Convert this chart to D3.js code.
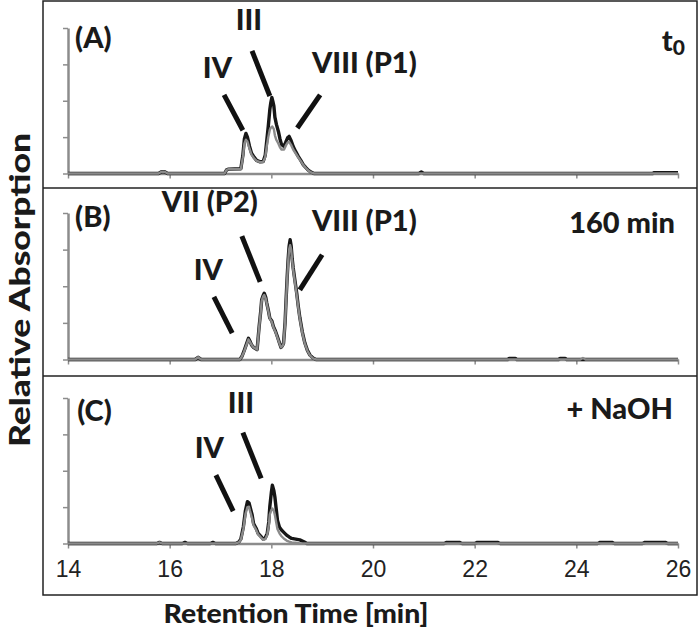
<!DOCTYPE html>
<html>
<head>
<meta charset="utf-8">
<script src="https://cdn.jsdelivr.net/npm/d3@7"></script>
<style>
  body { margin: 0; background: #fff; }
  .lbl { font-family: Lato, "Open Sans", sans-serif; font-weight: 900; fill: #1a1a1a; }
  .tick text { font-family: "Liberation Sans", Arial, sans-serif; font-size: 23px; fill: #222; }
</style>
</head>
<body>
<div id="chart"></div>
<script>
// x ticks (retention time, min)
var xTicks = [14, 16, 18, 20, 22, 24, 26]
var yTicks = [0, 1, 2, 3, 4]

// panel texts
var panelNames = ["(A)", "(B)", "(C)"]
var conditions = ["t", "160 min", "+ NaOH"]
var peakNamesA = ["IV", "III", "VIII (P1)"]
var peakNamesB = ["IV", "VII (P2)", "VIII (P1)"]
var peakNamesC = ["IV", "III"]

// traces: [time, relative absorption]
var blackA = [[14,0],[15.78,0],[15.84,0.05],[15.90,0.05],[15.96,0],[17.08,0],[17.12,0.1],[17.16,0.12],[17.40,0.13],[17.44,0.5],[17.47,0.95],[17.50,1.10],[17.53,1.0],[17.57,0.75],[17.61,0.56],[17.66,0.45],[17.71,0.36],[17.78,0.32],[17.84,0.33],[17.88,0.5],[17.91,0.9],[17.94,1.3],[17.97,1.75],[17.99,1.95],[18.01,2.09],[18.03,1.98],[18.05,1.85],[18.07,1.55],[18.10,1.35],[18.14,1.15],[18.17,0.95],[18.20,0.80],[18.25,0.74],[18.29,0.88],[18.32,0.98],[18.35,1.02],[18.39,0.90],[18.43,0.74],[18.48,0.60],[18.53,0.47],[18.58,0.36],[18.63,0.24],[18.68,0.16],[18.72,0.10],[18.78,0.04],[18.84,0],[20.90,0],[20.95,0.04],[21.00,0],[25.50,0],[25.52,0.02],[26,0.02]]
var grayA = [[14,0],[15.78,0],[15.84,0.05],[15.90,0.05],[15.96,0],[17.08,0],[17.12,0.1],[17.16,0.12],[17.40,0.12],[17.44,0.45],[17.47,0.82],[17.50,0.93],[17.53,0.88],[17.57,0.68],[17.61,0.52],[17.66,0.42],[17.71,0.35],[17.78,0.31],[17.84,0.32],[17.88,0.45],[17.91,0.75],[17.94,1.0],[17.97,1.2],[17.99,1.26],[18.02,1.29],[18.05,1.22],[18.07,1.05],[18.10,0.92],[18.14,0.82],[18.17,0.72],[18.20,0.66],[18.25,0.66],[18.29,0.78],[18.32,0.85],[18.35,0.87],[18.39,0.78],[18.43,0.66],[18.48,0.55],[18.53,0.44],[18.58,0.34],[18.63,0.23],[18.68,0.15],[18.72,0.09],[18.78,0.03],[18.84,0],[26,0]]

var blackB = [[14,0],[16.50,0],[16.56,0.06],[16.62,0],[17.38,0],[17.42,0.08],[17.46,0.22],[17.50,0.38],[17.55,0.58],[17.58,0.5],[17.61,0.40],[17.65,0.33],[17.69,0.30],[17.72,0.27],[17.76,0.90],[17.79,1.30],[17.81,1.63],[17.84,1.75],[17.86,1.81],[17.89,1.7],[17.91,1.54],[17.94,1.35],[17.97,1.13],[18.01,1.05],[18.04,0.90],[18.08,0.78],[18.12,0.62],[18.16,0.45],[18.19,0.33],[18.22,0.38],[18.24,0.44],[18.27,1.0],[18.29,1.63],[18.31,2.2],[18.33,2.72],[18.35,3.1],[18.37,3.27],[18.39,3.1],[18.41,2.75],[18.43,2.5],[18.46,2.2],[18.50,1.8],[18.53,1.45],[18.56,1.15],[18.61,0.75],[18.66,0.45],[18.71,0.25],[18.76,0.12],[18.82,0.04],[18.88,0],[22.65,0],[22.68,0.03],[22.80,0.03],[22.83,0],[23.65,0],[23.68,0.03],[23.78,0.03],[23.81,0],[26,0]]
var grayB = [[14,0],[16.50,0],[16.56,0.06],[16.62,0],[17.38,0],[17.42,0.08],[17.46,0.2],[17.50,0.36],[17.55,0.55],[17.58,0.48],[17.61,0.40],[17.65,0.33],[17.69,0.30],[17.72,0.27],[17.76,0.88],[17.79,1.28],[17.81,1.6],[17.84,1.72],[17.86,1.76],[17.89,1.66],[17.91,1.52],[17.94,1.33],[17.97,1.12],[18.01,1.03],[18.04,0.88],[18.08,0.76],[18.12,0.6],[18.16,0.44],[18.19,0.33],[18.22,0.37],[18.24,0.43],[18.27,0.98],[18.29,1.6],[18.31,2.15],[18.33,2.65],[18.35,3.0],[18.37,3.12],[18.39,3.0],[18.41,2.7],[18.43,2.45],[18.46,2.15],[18.50,1.75],[18.53,1.42],[18.56,1.12],[18.61,0.72],[18.66,0.43],[18.71,0.24],[18.76,0.11],[18.82,0.03],[18.88,0],[24.08,0],[24.13,0.04],[24.18,0],[26,0]]

var blackC = [[14,0],[15.75,0],[15.80,0.03],[15.85,0],[16.25,0],[16.30,0.03],[16.35,0],[16.80,0],[16.85,0.03],[16.90,0],[17.30,0],[17.36,0.04],[17.40,0.12],[17.45,0.46],[17.49,0.9],[17.53,1.15],[17.56,1.12],[17.58,1.01],[17.62,0.8],[17.65,0.55],[17.70,0.42],[17.74,0.28],[17.79,0.2],[17.84,0.12],[17.88,0.15],[17.92,0.28],[17.95,0.6],[17.97,1.01],[18.00,1.4],[18.02,1.60],[18.05,1.45],[18.07,1.28],[18.10,0.9],[18.12,0.64],[18.16,0.45],[18.20,0.37],[18.25,0.3],[18.30,0.23],[18.35,0.18],[18.40,0.14],[18.48,0.12],[18.56,0.10],[18.64,0.05],[18.70,0],[21.40,0],[21.45,0.03],[21.70,0.03],[21.75,0],[22.00,0],[22.05,0.03],[22.45,0.03],[22.50,0],[24.42,0],[24.47,0.03],[24.70,0.03],[24.75,0],[25.30,0],[25.35,0.03],[25.75,0.03],[25.80,0],[26,0]]
var grayC = [[14,0],[15.75,0],[15.80,0.03],[15.85,0],[17.30,0],[17.36,0.03],[17.40,0.1],[17.45,0.4],[17.49,0.8],[17.53,1.0],[17.56,1.01],[17.58,0.9],[17.62,0.7],[17.65,0.5],[17.70,0.38],[17.74,0.25],[17.79,0.17],[17.84,0.1],[17.88,0.12],[17.92,0.24],[17.95,0.5],[17.97,0.8],[18.00,0.92],[18.02,0.96],[18.05,0.9],[18.07,0.78],[18.10,0.55],[18.12,0.4],[18.16,0.28],[18.20,0.2],[18.25,0.13],[18.30,0.08],[18.35,0.05],[18.40,0.03],[18.48,0.02],[18.56,0],[26,0]]

var svg = d3.select("#chart").append("svg").attr("width", 700).attr("height", 639)

var xs = d3.scaleLinear().domain([14, 26]).range([68, 678])

// frame with panel separators
svg.append("rect").attr("x", 43).attr("y", 1).attr("width", 654).attr("height", 594)
  .attr("fill", "none").attr("stroke", "#222").attr("stroke-width", 1.5)
;[188, 376].forEach(function (y) {
  svg.append("line").attr("x1", 43).attr("x2", 697).attr("y1", y).attr("y2", y)
    .attr("stroke", "#222").attr("stroke-width", 1.5)
})

// layout: labels and leader lines in data units (time, absorption)
var panels = [
  { top: 28, base: 173.5, black: blackA, gray: grayA,
    texts: [[panelNames[0], 14.14, 3.45, "start"], [peakNamesA[0], 16.94, 2.62, "middle"],
            [peakNamesA[1], 17.56, 3.94, "middle"], [peakNamesA[2], 18.80, 2.76, "start"]],
    leaders: [[17.07, 2.16, 17.44, 1.19], [17.62, 3.37, 17.97, 2.13], [18.96, 2.16, 18.51, 1.25]],
    cond: [conditions[0], 25.68, 3.38] },
  { top: 213, base: 359.5, black: blackB, gray: grayB,
    texts: [[panelNames[1], 14.14, 3.62, "start"], [peakNamesB[0], 16.76, 2.17, "middle"],
            [peakNamesB[1], 16.79, 4.03, "middle"], [peakNamesB[2], 18.80, 3.51, "start"]],
    leaders: [[16.87, 1.71, 17.23, 0.72], [17.42, 3.37, 17.78, 2.12], [19.0, 2.86, 18.56, 1.90]],
    cond: [conditions[1], 25.94, 3.46] },
  { top: 398, base: 543.5, black: blackC, gray: grayC,
    texts: [[panelNames[2], 14.18, 3.38, "start"], [peakNamesC[0], 16.78, 2.34, "middle"],
            [peakNamesC[1], 17.40, 3.58, "middle"]],
    leaders: [[16.91, 1.88, 17.25, 0.89], [17.44, 3.05, 17.80, 1.79]],
    cond: [conditions[2], 25.90, 3.41] }
]

panels.forEach(function (p, i) {
  var ys = d3.scaleLinear().domain([0, 4]).range([p.base, p.top])
  var g = svg.append("g")

  var xAxis = d3.axisBottom(xs).tickValues(xTicks).tickSize(5).tickSizeOuter(0).tickPadding(12)
  if (i < 2) xAxis.tickFormat("")
  var gx = g.append("g").attr("transform", "translate(0," + p.base + ")").call(xAxis)

  var yAxis = d3.axisLeft(ys).tickValues(yTicks).tickSize(5).tickSizeOuter(0).tickFormat("")
  var gy = g.append("g").attr("transform", "translate(" + xs(14) + ",0)").call(yAxis)

  ;[gx, gy].forEach(function (a) {
    a.select(".domain").attr("stroke", "#8c8c8c").attr("stroke-width", 2.5)
    a.selectAll(".tick line").attr("stroke", "#8c8c8c").attr("stroke-width", 1.5)
  })

  var line = d3.line().x(function (d) { return xs(d[0]) }).y(function (d) { return ys(d[1]) })
  g.append("path").datum(p.black).attr("d", line).attr("fill", "none")
    .attr("stroke", "#161616").attr("stroke-width", 3.4).attr("stroke-linejoin", "round")
  g.append("path").datum(p.gray).attr("d", line).attr("fill", "none")
    .attr("stroke", "#8a8a8a").attr("stroke-width", 2.4).attr("stroke-linejoin", "round")

  g.selectAll(".leader").data(p.leaders).enter().append("line")
    .attr("x1", function (d) { return xs(d[0]) }).attr("y1", function (d) { return ys(d[1]) })
    .attr("x2", function (d) { return xs(d[2]) }).attr("y2", function (d) { return ys(d[3]) })
    .attr("stroke", "#111").attr("stroke-width", 5)

  g.selectAll(".pk").data(p.texts).enter().append("text")
    .attr("class", "lbl")
    .attr("x", function (d) { return xs(d[1]) }).attr("y", function (d) { return ys(d[2]) })
    .attr("text-anchor", function (d) { return d[3] })
    .style("font-size", "29px")
    .text(function (d) { return d[0] })

  var c = g.append("text").attr("class", "lbl")
    .attr("x", xs(p.cond[1])).attr("y", ys(p.cond[2]))
    .attr("text-anchor", i === 0 ? "start" : "end")
    .style("font-size", "29px")
  c.append("tspan").text(p.cond[0])
  if (i === 0) c.append("tspan").attr("dy", 4).style("font-size", "21px").text("0")
})

// axis titles
svg.append("text").attr("class", "lbl")
  .attr("x", 296).attr("y", 623).attr("text-anchor", "middle")
  .attr("textLength", 265).attr("lengthAdjust", "spacingAndGlyphs")
  .style("font-size", "27px")
  .text("Retention Time [min]")

svg.append("text").attr("class", "lbl")
  .attr("transform", "translate(30,290) rotate(-90)")
  .attr("text-anchor", "middle")
  .attr("textLength", 314).attr("lengthAdjust", "spacingAndGlyphs")
  .style("font-size", "29px")
  .text("Relative Absorption")
</script>
</body>
</html>
